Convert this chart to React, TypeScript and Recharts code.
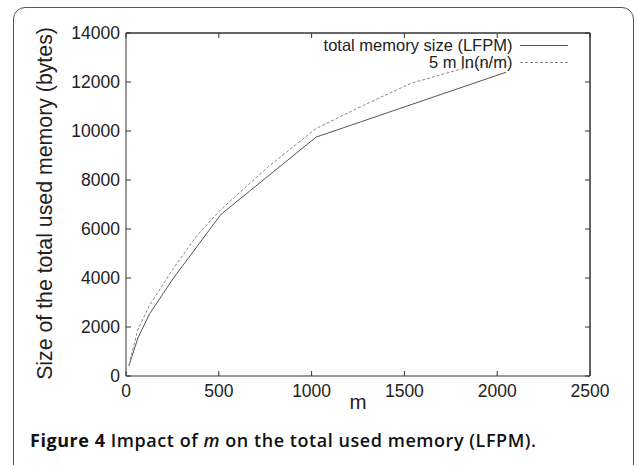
import React from 'react';
import { LineChart, Line, XAxis, YAxis, Label } from 'recharts';

const mLFPM = [16, 32, 64, 128, 256, 512, 1024, 2048];
const memLFPM = [420, 800, 1550, 2550, 4000, 6600, 9750, 12400];
const mBound = [16, 32, 64, 128, 256, 384, 512, 768, 1024, 1280, 1536, 1792, 2048];
const memBound = [450, 950, 1900, 2900, 4400, 5750, 6800, 8550, 10100, 11050, 11950, 12500, 12950];
const xTicks = [0, 500, 1000, 1500, 2000, 2500];
const yTicks = [0, 2000, 4000, 6000, 8000, 10000, 12000, 14000];
const xMax = 2500;
const yMax = 14000;
const seriesNames = ['total memory size (LFPM)', '5 m ln(n/m)'];
const seriesColors = ['#555', '#888'];
const seriesDash = ['', '3 2'];

const lfpmData = mLFPM.map((m, i) => ({ m, v: memLFPM[i] }));
const boundData = mBound.map((m, i) => ({ m, v: memBound[i] }));

const W = 637;
const H = 465;
const MARGIN = { top: 32, right: 46, bottom: 59, left: 66 };
const Y_AXIS_W = 60;
const X_AXIS_H = 30;
const PLOT_L = MARGIN.left + Y_AXIS_W;
const PLOT_T = MARGIN.top + 1;
const PLOT_R = W - MARGIN.right - 1;
const PLOT_B = H - MARGIN.bottom - X_AXIS_H;

const FONT = '"Liberation Sans", Arial, Helvetica, sans-serif';
const TXT = '#222';
const AX = '#333';
const TL = 5;
const TS = 6;

const BottomTick = (p: any) => {
  const ay = p.y - TS;
  return (
    <g>
      <line x1={p.x} y1={ay} x2={p.x} y2={ay - TL} stroke={AX} strokeWidth={1} />
      <text x={p.x} y={ay + 21} textAnchor="middle" fontSize={17.5} fontFamily={FONT} fill={TXT}>
        {p.payload.value}
      </text>
    </g>
  );
};
const TopTick = (p: any) => {
  const ay = p.y + TS;
  return <line x1={p.x} y1={ay} x2={p.x} y2={ay + TL} stroke={AX} strokeWidth={1} />;
};
const LeftTick = (p: any) => {
  const ax = p.x + TS;
  return (
    <g>
      <line x1={ax} y1={p.y} x2={ax + TL} y2={p.y} stroke={AX} strokeWidth={1} />
      <text x={ax - 6} y={p.y + 6} textAnchor="end" fontSize={17.5} fontFamily={FONT} fill={TXT}>
        {p.payload.value}
      </text>
    </g>
  );
};
const RightTick = (p: any) => {
  const ax = p.x - TS;
  return <line x1={ax} y1={p.y} x2={ax - TL} y2={p.y} stroke={AX} strokeWidth={1} />;
};

const LegendBox = () => (
  <div style={{ position: 'absolute', top: 37, left: 300, width: 280, fontFamily: FONT, fontSize: 16.5, color: TXT }}>
    {seriesNames.map((name, i) => (
      <div key={i} style={{ display: 'flex', alignItems: 'center', height: 17 }}>
        <div style={{ width: 214, textAlign: 'right', lineHeight: '17px', whiteSpace: 'nowrap' }}>{name}</div>
        <svg width={60} height={17} style={{ marginLeft: 8 }}>
          <line x1={0} y1={8.5} x2={48} y2={8.5} stroke={seriesColors[i]} strokeWidth={1} strokeDasharray={seriesDash[i] || undefined} />
        </svg>
      </div>
    ))}
  </div>
);

const FrameOverlay = () => (
  <svg width={W} height={H} style={{ position: 'absolute', left: 0, top: 0, pointerEvents: 'none' }}>
    <line x1={PLOT_L} y1={PLOT_T} x2={PLOT_R} y2={PLOT_T} stroke={AX} strokeWidth={1} />
    <line x1={PLOT_R} y1={PLOT_T} x2={PLOT_R} y2={PLOT_B} stroke={AX} strokeWidth={1} />
  </svg>
);

export default function App() {
  return (
    <div style={{ position: 'absolute', left: 0, top: 0, width: W, height: H, overflow: 'hidden', background: '#fff' }}>
      <div
        style={{
          position: 'absolute',
          left: 13,
          top: 7,
          width: 621,
          height: 480,
          border: '1px solid #555',
          borderRadius: 12,
          boxSizing: 'border-box',
        }}
      />
      <div style={{ position: 'absolute', left: 0, top: 0 }}>
        <LineChart width={W} height={H} margin={MARGIN}>
          <XAxis
            xAxisId="b"
            dataKey="m"
            type="number"
            domain={[0, xMax]}
            ticks={xTicks}
            height={X_AXIS_H}
            tickSize={TS}
            tickMargin={0}
            tickLine={false}
            stroke={AX}
            tick={BottomTick}
            interval={0}
          >
            <Label
              content={(lp: any) => {
                const vb = lp.viewBox;
                return (
                  <text x={vb.x + vb.width / 2} y={vb.y + 33} textAnchor="middle" fontSize={20.5} fontFamily={FONT} fill={TXT}>
                    m
                  </text>
                );
              }}
            />
          </XAxis>
          <XAxis
            xAxisId="t"
            orientation="top"
            dataKey="m"
            type="number"
            domain={[0, xMax]}
            ticks={xTicks}
            height={1}
            tickSize={TS}
            tickMargin={0}
            tickLine={false}
            stroke={AX}
            tick={TopTick}
            interval={0}
          />
          <YAxis
            yAxisId="l"
            type="number"
            domain={[0, yMax]}
            ticks={yTicks}
            width={Y_AXIS_W}
            tickSize={TS}
            tickMargin={0}
            tickLine={false}
            stroke={AX}
            tick={LeftTick}
            interval={0}
          >
            <Label
              content={(lp: any) => {
                const vb = lp.viewBox;
                const cx = vb.x - 14;
                const cy = vb.y + vb.height / 2 - 1;
                return (
                  <text
                    x={cx}
                    y={cy}
                    transform={`rotate(-90 ${cx} ${cy})`}
                    textAnchor="middle"
                    fontSize={21.3}
                    fontFamily={FONT}
                    fill={TXT}
                  >
                    Size of the total used memory (bytes)
                  </text>
                );
              }}
            />
          </YAxis>
          <YAxis
            yAxisId="r"
            orientation="right"
            type="number"
            domain={[0, yMax]}
            ticks={yTicks}
            width={1}
            tickSize={TS}
            tickMargin={0}
            tickLine={false}
            stroke={AX}
            tick={RightTick}
            interval={0}
          />
          <Line
            xAxisId="t"
            yAxisId="r"
            data={lfpmData}
            dataKey="v"
            name="frame"
            legendType="none"
            stroke="none"
            dot={false}
            activeDot={false}
            isAnimationActive={false}
          />
          <Line
            xAxisId="b"
            yAxisId="l"
            data={lfpmData}
            dataKey="v"
            name={seriesNames[0]}
            type="linear"
            stroke={seriesColors[0]}
            strokeWidth={1}
            dot={false}
            activeDot={false}
            isAnimationActive={false}
          />
          <Line
            xAxisId="b"
            yAxisId="l"
            data={boundData}
            dataKey="v"
            name={seriesNames[1]}
            type="linear"
            stroke={seriesColors[1]}
            strokeWidth={1}
            strokeDasharray={seriesDash[1]}
            dot={false}
            activeDot={false}
            isAnimationActive={false}
          />
        </LineChart>
      </div>
      <FrameOverlay />
      <LegendBox />
      <div
        style={{
          position: 'absolute',
          left: 30,
          top: 428,
          fontFamily: '"Open Sans", sans-serif',
          fontSize: 18,
          letterSpacing: '0.55px',
          lineHeight: '24px',
          color: '#111',
          whiteSpace: 'nowrap',
          fontWeight: 600,
        }}
      >
        <span style={{ fontWeight: 700 }}>Figure 4</span> Impact of <i>m</i> on the total used memory (LFPM).
      </div>
    </div>
  );
}
